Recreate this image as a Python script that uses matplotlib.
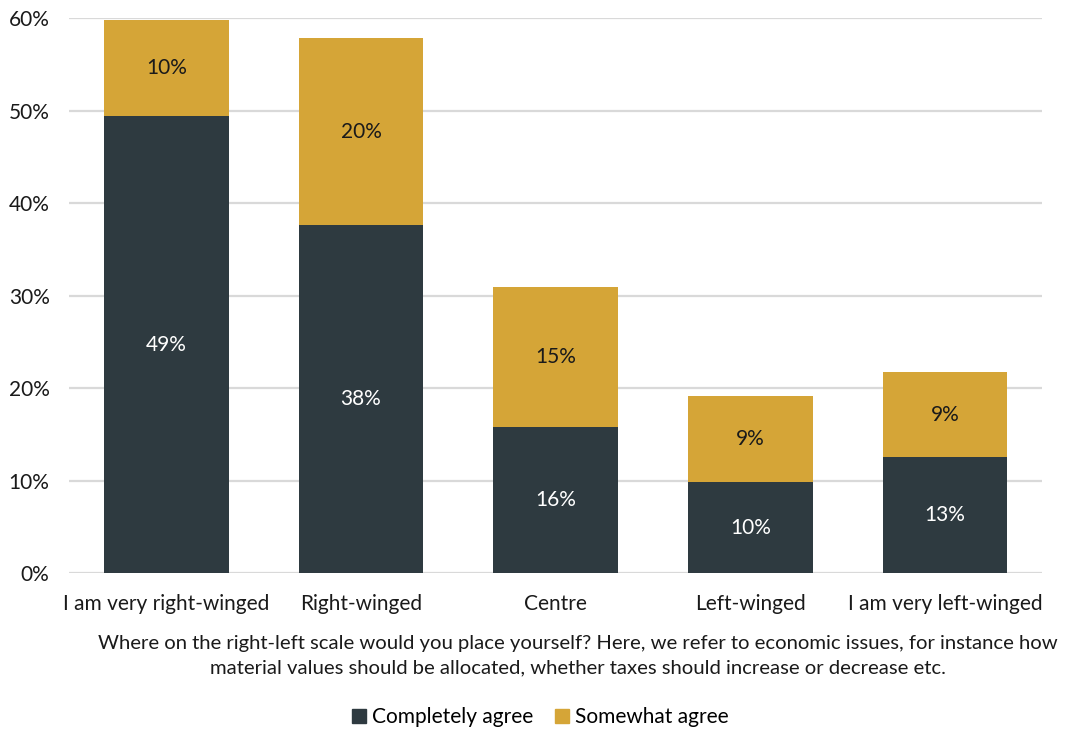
import matplotlib
matplotlib.use("Agg")
import matplotlib.pyplot as plt
from matplotlib.ticker import MultipleLocator, FuncFormatter
from matplotlib.patches import Patch

categories = ["I am very right-winged", "Right-winged", "Centre", "Left-winged", "I am very left-winged"]
completely_agree = [49.4, 37.6, 15.8, 9.8, 12.6]
somewhat_agree = [10.4, 20.3, 15.1, 9.4, 9.1]
series_names = ["Completely agree", "Somewhat agree"]
question = ("Where on the right-left scale would you place yourself? Here, we refer to economic issues, for instance how\n"
            "material values should be allocated, whether taxes should increase or decrease etc.")

DARK = "#2E3A40"
GOLD = "#D5A537"
GRID = "#D9D9D9"
FS = 15

plt.rcParams["font.family"] = ["Lato", "DejaVu Sans"]

fig = plt.figure(figsize=(10.7, 7.31), dpi=100)
ax = fig.add_axes([0.0645, 0.216, 0.9095, 0.759])

x = list(range(len(categories)))
w = 0.64
ax.bar(x, completely_agree, width=w, color=DARK, zorder=3)
ax.bar(x, somewhat_agree, width=w, bottom=completely_agree, color=GOLD, zorder=3)

for i in x:
    ca, sa = completely_agree[i], somewhat_agree[i]
    ax.text(i, ca / 2, f"{round(ca):.0f}%", ha="center", va="center",
            color="white", fontsize=FS, zorder=4)
    ax.text(i, ca + sa / 2, f"{round(sa):.0f}%", ha="center", va="center",
            color="#1a1a1a", fontsize=FS, zorder=4)

ax.set_xlim(-0.5, len(categories) - 0.5)
ax.set_ylim(0, 60)
ax.yaxis.set_major_locator(MultipleLocator(10))
ax.yaxis.set_major_formatter(FuncFormatter(lambda v, p: f"{v:.0f}%"))
ax.grid(axis="y", color=GRID, linewidth=1.6, zorder=0)
ax.set_axisbelow(True)
for s in ax.spines.values():
    s.set_visible(False)
ax.tick_params(axis="both", length=0, labelsize=FS, colors="#1a1a1a")
ax.tick_params(axis="y", pad=14)
ax.tick_params(axis="x", pad=15)
ax.set_xticks(x)
ax.set_xticklabels(categories)

fig.text(0.540, 0.103, question, ha="center", va="center", fontsize=14.6,
         color="#1a1a1a", linespacing=1.5)

handles = [Patch(color=DARK), Patch(color=GOLD)]
fig.legend(handles, series_names, loc="center", bbox_to_anchor=(0.505, 0.019),
           ncol=2, frameon=False, fontsize=FS, handlelength=0.7, handleheight=0.7,
           handletextpad=0.3, columnspacing=1.0)

fig.savefig("out.png", dpi=100)
